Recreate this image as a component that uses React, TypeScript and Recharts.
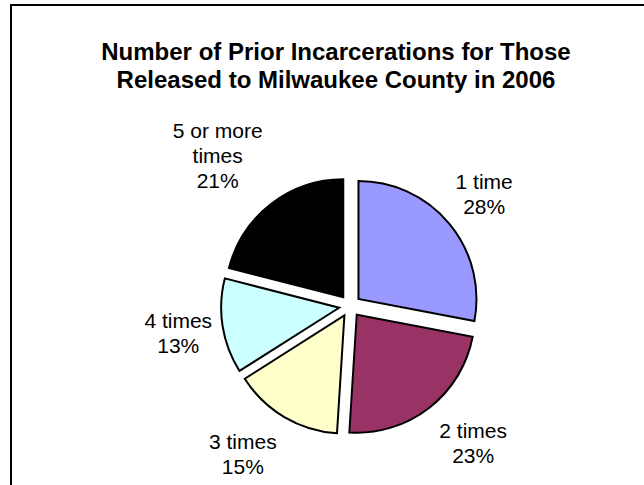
import React from "react";
import { PieChart, Pie, Cell } from "recharts";

// prior incarcerations, releases to Milwaukee County 2006
const categories = ["1 time", "2 times", "3 times", "4 times", "5 or more times"];
const percents = [28, 23, 15, 13, 21];
const colors = ["#9999FF", "#993366", "#FFFFCC", "#CCFFFF", "#000000"];

const title = ["Number of Prior Incarcerations for Those", "Released to Milwaukee County in 2006"];

const data = categories.map((name, i) => ({ name, value: percents[i] }));

const CX = 338;
const CY = 300;
const R = 118;
const EXPLODE = 11;
const FONT = '"Liberation Sans", Arial, Helvetica, sans-serif';
const LABEL_SIZE = 21;
const LINE_H = 25;

// excel "best fit" moved the labels a bit, nudge to match
const LABEL_NUDGE = [
  [-3, -2],
  [11, 0],
  [-14, -1],
  [9, 0],
  [-14, -4],
];

const total = percents.reduce((a, b) => a + b, 0);
// mid angle of each slice, degrees, counter-clockwise from 3 o'clock, start at 12 going clockwise
const midAngles = percents.map((v, i) => {
  const before = percents.slice(0, i).reduce((a, b) => a + b, 0);
  return 90 - ((before + v / 2) / total) * 360;
});

function wrapLabel(name: string) {
  const words = name.split(" ");
  if (words.length > 2) return [words.slice(0, -1).join(" "), words[words.length - 1]];
  return [name];
}

const RAD = Math.PI / 180;

function renderLabel(props: any) {
  const { index } = props;
  const m = midAngles[index];
  const lines = [...wrapLabel(categories[index]), `${percents[index]}%`];
  const w = Math.max(...lines.map((l) => l.length)) * 10;
  const h = lines.length * LINE_H;
  const dx = Math.cos(m * RAD);
  const dy = -Math.sin(m * RAD);
  const x = CX + dx * (R + 30) + (dx * w) / 2 + LABEL_NUDGE[index][0];
  const y = CY + dy * (R + 30) + (dy * h) / 2 + LABEL_NUDGE[index][1];
  const firstY = y - ((lines.length - 1) * LINE_H) / 2 + 7.5;
  return (
    <text
      key={`lbl-${index}`}
      x={x}
      y={firstY}
      textAnchor="middle"
      fontFamily={FONT}
      fontSize={LABEL_SIZE}
      fill="#000"
    >
      {lines.map((l, k) => (
        <tspan key={k} x={x} y={firstY + k * LINE_H}>
          {l}
        </tspan>
      ))}
    </text>
  );
}

export default function App() {
  return (
    <div
      style={{
        position: "fixed",
        left: 0,
        top: 0,
        width: 644,
        height: 485,
        overflow: "hidden",
        background: "#fff",
      }}
    >
      <div
        style={{
          position: "absolute",
          left: 10,
          top: 4,
          width: 650,
          height: 500,
          border: "2px solid #000",
          background: "#fff",
        }}
      >
        <div
          style={{
            position: "absolute",
            left: 0,
            top: 32,
            width: 648,
            textAlign: "center",
            fontFamily: FONT,
            fontWeight: "bold",
            fontSize: 24,
            lineHeight: "28px",
            color: "#000",
          }}
        >
          {title.map((t) => (
            <div key={t}>{t}</div>
          ))}
        </div>
        <div style={{ position: "absolute", left: 0, top: 0 }}>
          <PieChart width={632} height={480} margin={{ top: 0, right: 0, bottom: 0, left: 0 }}>
            {data.map((_, i) => {
              const off = EXPLODE;
              const cx = CX + off * Math.cos(midAngles[i] * RAD);
              const cy = CY - off * Math.sin(midAngles[i] * RAD);
              return (
                <Pie
                  key={`slice-${i}`}
                  data={data}
                  dataKey="value"
                  nameKey="name"
                  cx={cx}
                  cy={cy}
                  outerRadius={R}
                  startAngle={90}
                  endAngle={-270}
                  isAnimationActive={false}
                  label={false}
                  labelLine={false}
                >
                  {data.map((d, j) => (
                    <Cell
                      key={d.name}
                      fill={j === i ? colors[j] : "none"}
                      stroke={j === i ? "#000" : "none"}
                      strokeWidth={2}
                    />
                  ))}
                </Pie>
              );
            })}
            <Pie
              data={data}
              dataKey="value"
              nameKey="name"
              cx={CX}
              cy={CY}
              outerRadius={R}
              startAngle={90}
              endAngle={-270}
              isAnimationActive={false}
              label={renderLabel}
              labelLine={false}
            >
              {data.map((d) => (
                <Cell key={d.name} fill="none" stroke="none" />
              ))}
            </Pie>
          </PieChart>
        </div>
      </div>
    </div>
  );
}
